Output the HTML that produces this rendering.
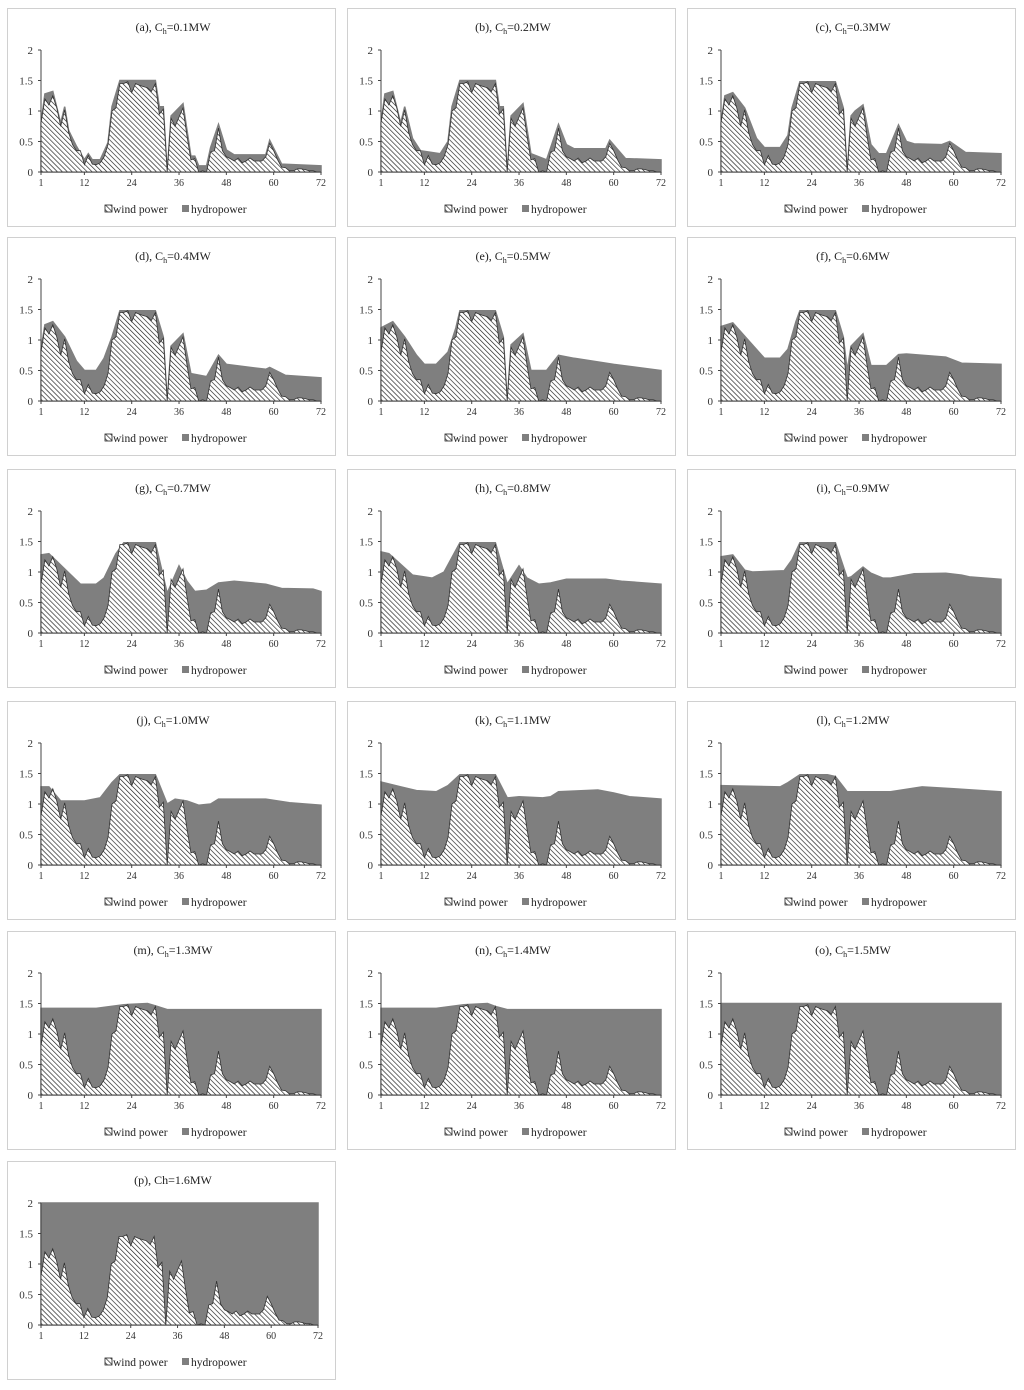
<!DOCTYPE html>
<html><head><meta charset="utf-8">
<style>
body{margin:0;background:#fff;width:1024px;height:1390px;position:relative;overflow:hidden;font-family:"Liberation Serif",serif;}
.panel{position:absolute;width:329px;height:219px;border:1px solid #d0d0d0;box-sizing:border-box;background:#fff}
svg{position:absolute;left:0;top:0}
</style></head><body>
<div id="root"></div>
<script>
const hours = Array.from({length:72},(_,i)=>i+1);
const windPower = [0.8,1.2,1.1,1.25,1.05,0.75,1.02,0.65,0.45,0.35,0.35,0.12,0.27,0.13,0.12,0.15,0.25,0.45,1.0,1.05,1.45,1.45,1.48,1.3,1.45,1.42,1.4,1.38,1.32,1.45,0.95,1.03,0.0,0.88,0.75,0.9,1.05,0.6,0.2,0.22,0.0,0.02,0.0,0.33,0.35,0.72,0.35,0.25,0.22,0.18,0.23,0.15,0.18,0.23,0.18,0.18,0.18,0.25,0.47,0.35,0.2,0.08,0.07,0.02,0.02,0.05,0.05,0.04,0.02,0.02,0.0,0.0];
const panelLetters = ['a','b','c','d','e','f','g','h','i','j','k','l','m','n','o','p'];
const chValues = ['0.1','0.2','0.3','0.4','0.5','0.6','0.7','0.8','0.9','1.0','1.1','1.2','1.3','1.4','1.5','1.6'];
const yTicks = [0,0.5,1,1.5,2];
const yTickLabels = ['0','0.5','1','1.5','2'];
const xTicks = [1,12,24,36,48,60,72];
const totalA = [[1,0.8],[2,1.28],[4,1.32],[6,0.8],[7,1.07],[8,0.68],[10,0.42],[12,0.2],[13,0.3],[14,0.2],[16,0.2],[18,0.48],[19,1.07],[21,1.5],[30,1.5],[31,1.07],[32,1.07],[33,0],[34,0.92],[37,1.12],[39,0.26],[40,0.26],[41,0.1],[43,0.1],[44,0.4],[46,0.78],[48,0.36],[50,0.28],[58,0.28],[59,0.52],[62,0.13],[72,0.1]];
const totalB = [[1,0.8],[2,1.28],[4,1.32],[6,0.8],[7,1.07],[9,0.55],[11,0.35],[16,0.3],[18,0.5],[19,1.07],[21,1.5],[30,1.5],[31,1.07],[32,1.07],[33,0],[34,0.92],[37,1.12],[39,0.3],[43,0.2],[46,0.78],[48,0.45],[50,0.38],[58,0.38],[59,0.52],[63,0.22],[72,0.2]];
const totalC = [[1,0.8],[2,1.25],[4,1.3],[7,1.05],[10,0.55],[12,0.4],[16,0.4],[18,0.6],[19,1.05],[21,1.48],[30,1.48],[32,1.05],[33,0],[34,0.92],[35,1.0],[37,1.1],[39,0.45],[41,0.3],[43,0.3],[46,0.77],[48,0.5],[50,0.46],[57,0.45],[59,0.5],[63,0.32],[72,0.3]];
const totalD = [[1,0.85],[2,1.25],[4,1.3],[7,1.05],[10,0.65],[12,0.5],[15,0.5],[17,0.7],[19,1.05],[21,1.48],[30,1.48],[32,1.05],[33,0],[34,0.9],[37,1.1],[39,0.45],[43,0.4],[46,0.75],[48,0.6],[58,0.52],[59,0.55],[63,0.42],[72,0.38]];
const totalE = [[1,1.2],[4,1.3],[7,1.05],[10,0.75],[12,0.6],[15,0.6],[18,0.8],[20,1.2],[21,1.48],[30,1.48],[32,1.05],[33,0],[34,0.92],[37,1.1],[39,0.5],[43,0.5],[46,0.75],[50,0.7],[60,0.6],[72,0.5]];
const totalF = [[1,1.22],[4,1.28],[12,0.7],[16,0.7],[18,0.85],[20,1.3],[21,1.48],[30,1.48],[32,1.05],[33,0.5],[34,0.9],[37,1.1],[39,0.58],[43,0.58],[46,0.76],[48,0.77],[58,0.72],[62,0.62],[72,0.6]];
const totalG = [[1,1.28],[3,1.3],[11,0.8],[15,0.8],[17,0.9],[20,1.3],[22,1.48],[30,1.48],[33,0.65],[36,1.1],[38,0.85],[40,0.68],[43,0.7],[46,0.82],[50,0.85],[58,0.8],[62,0.73],[70,0.72],[72,0.68]];
const totalH = [[1,1.33],[3,1.3],[9,0.95],[14,0.9],[17,1.0],[21,1.48],[30,1.48],[33,0.8],[36,1.1],[38,0.9],[41,0.8],[44,0.82],[48,0.88],[58,0.88],[62,0.85],[72,0.8]];
const totalI = [[1,1.25],[4,1.28],[7,1.03],[9,1.0],[17,1.02],[19,1.2],[21,1.48],[30,1.48],[33,0.9],[34,0.92],[37,1.08],[39,0.98],[42,0.9],[44,0.9],[50,0.97],[58,0.98],[62,0.95],[64,0.92],[72,0.88]];
const totalJ = [[1,1.28],[3,1.28],[6,1.05],[12,1.05],[16,1.1],[19,1.35],[21,1.48],[30,1.48],[33,1.0],[35,1.08],[38,1.05],[41,0.98],[44,1.0],[46,1.08],[58,1.08],[64,1.02],[72,0.98]];
const totalK = [[1,1.36],[6,1.28],[10,1.22],[15,1.2],[18,1.3],[21,1.48],[30,1.48],[33,1.1],[36,1.12],[42,1.1],[44,1.12],[46,1.2],[56,1.23],[60,1.18],[64,1.12],[72,1.08]];
const totalL = [[1,1.3],[16,1.28],[18,1.35],[21,1.48],[28,1.48],[30,1.45],[33,1.2],[44,1.2],[52,1.28],[60,1.25],[72,1.2]];
const totalM = [[1,1.42],[15,1.42],[22,1.48],[28,1.5],[30,1.46],[33,1.4],[72,1.4]];
const totalN = [[1,1.42],[15,1.42],[22,1.48],[28,1.5],[30,1.45],[33,1.4],[72,1.4]];
const totalO = [[1,1.5],[72,1.5]];
const totalP = [[1,2],[72,2]];
const totals = [totalA,totalB,totalC,totalD,totalE,totalF,totalG,totalH,totalI,totalJ,totalK,totalL,totalM,totalN,totalO,totalP];

const NS='http://www.w3.org/2000/svg';
const colX=[7,347,687], rowY=[8,237,469,701,931,1161];
const root=document.getElementById('root');
function mk(tag,attrs,parent){const e=document.createElementNS(NS,tag);for(const k in attrs)e.setAttribute(k,attrs[k]);if(parent)parent.appendChild(e);return e;}

panelLetters.forEach((L,idx)=>{
  const px=colX[idx%3], py=rowY[Math.floor(idx/3)];
  const div=document.createElement('div');
  div.className='panel';div.style.left=px+'px';div.style.top=py+'px';
  
  
  root.appendChild(div);
  const svg=mk('svg',{width:329,height:219},div);
  const defs=mk('defs',{},svg);
  const pat=mk('pattern',{id:'h'+idx,patternUnits:'userSpaceOnUse',width:3.5,height:3.5,patternTransform:'rotate(-45)'},defs);
  mk('rect',{width:3.5,height:3.5,fill:'#fff'},pat);
  mk('line',{x1:0,y1:0,x2:0,y2:3.5,stroke:'#1a1a1a','stroke-width':1.3},pat);
  const left=33, right=(L==='p')?310:313, top=41, bot=163;
  const xs=h=>left+(h-1)/71*(right-left);
  const ys=v=>bot-v/2*(bot-top);
  const t=mk('text',{x:165,y:22,'text-anchor':'middle','font-size':12,'font-family':'Liberation Serif, serif',fill:'#222'},svg);
  
  
  if(L==='p'){t.textContent='(p), Ch=1.6MW';}
  else{t.appendChild(document.createTextNode('('+L+'), C'));const s=mk('tspan',{'font-size':8,dy:3},t);s.textContent='h';const r=mk('tspan',{dy:-3},t);r.textContent='='+chValues[idx]+'MW';}
  const tot=totals[idx];
  let d='M'+xs(tot[0][0])+','+ys(0);
  tot.forEach(p=>{d+=' L'+xs(p[0]).toFixed(1)+','+ys(p[1]).toFixed(1);});
  d+=' L'+xs(tot[tot.length-1][0])+','+ys(0)+' Z';
  const hy=mk('path',{d:d,fill:'#7f7f7f',stroke:'#7f7f7f','stroke-width':1.5},svg);
  
  
  let w='M'+xs(hours[0])+','+ys(0);
  hours.forEach((h,i)=>{w+=' L'+xs(h).toFixed(1)+','+ys(windPower[i]).toFixed(1);});
  w+=' L'+xs(72)+','+ys(0)+' Z';
  const wp=mk('path',{d:w,fill:'url(#h'+idx+')',stroke:'#333','stroke-width':0.8},svg);
  
  
  mk('line',{x1:left,y1:top,x2:left,y2:bot,stroke:'#444','stroke-width':1},svg);
  mk('line',{x1:left,y1:bot,x2:right,y2:bot,stroke:'#444','stroke-width':1},svg);
  yTicks.forEach((v,i)=>{
    mk('line',{x1:left-3,y1:ys(v),x2:left,y2:ys(v),stroke:'#444'},svg);
    const tl=mk('text',{x:left-8,y:ys(v)+4,'text-anchor':'end','font-size':11,fill:'#333'},svg);
    
    
    tl.textContent=yTickLabels[i];
  });
  xTicks.forEach(h=>{
    mk('line',{x1:xs(h),y1:bot,x2:xs(h),y2:bot+3,stroke:'#444'},svg);
    const tl=mk('text',{x:xs(h),y:bot+14,'text-anchor':'middle','font-size':10,fill:'#333'},svg);
    
    
    tl.textContent=h;
  });
  const lg=mk('g',{},svg);
  
  
  mk('rect',{x:97,y:196,width:7,height:7,fill:'url(#h'+idx+')',stroke:'#222','stroke-width':0.8},lg);
  const l1=mk('text',{x:105,y:204,'font-size':11.5,fill:'#222'},lg);l1.textContent='wind power';
  mk('rect',{x:174,y:196,width:7,height:7,fill:'#7f7f7f'},lg);
  const l2=mk('text',{x:183,y:204,'font-size':11.5,fill:'#222'},lg);l2.textContent='hydropower';
});
</script>
</body></html>
